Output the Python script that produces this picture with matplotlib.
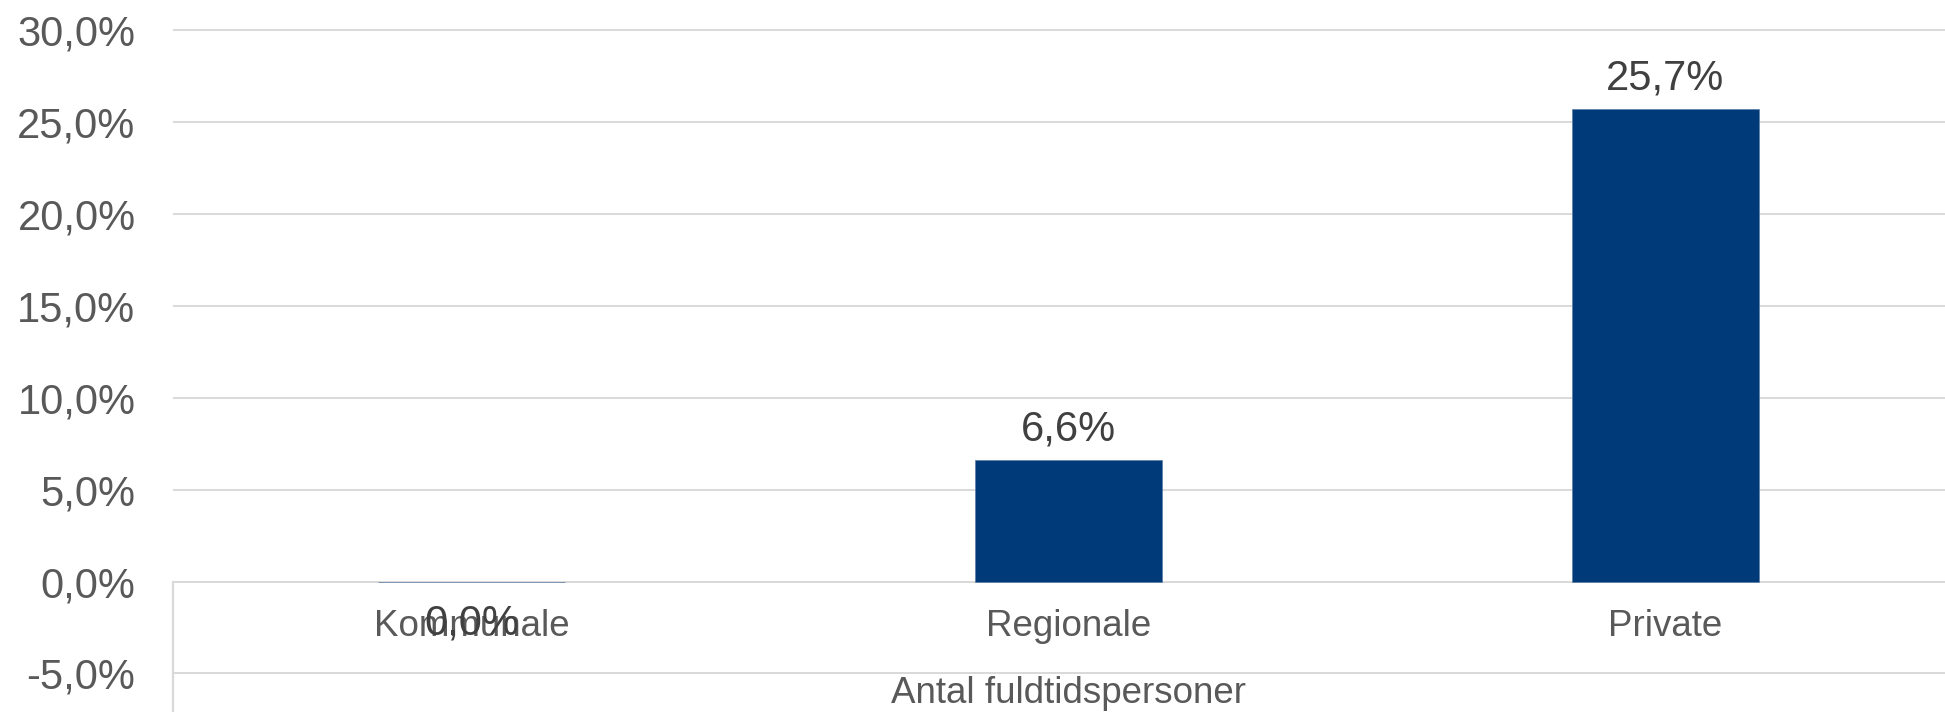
import matplotlib
matplotlib.use("Agg")
import matplotlib.pyplot as plt
from matplotlib.ticker import FixedLocator, FuncFormatter

# Share by sector, "Antal fuldtidspersoner"
categories = ["Kommunale", "Regionale", "Private"]
values = [0.0, 6.6, 25.7]          # percent
y_ticks = [-5, 0, 5, 10, 15, 20, 25, 30]
axis_title = "Antal fuldtidspersoner"

BAR = "#003A78"
BAR_EDGE = "#5C7DA6"
GRID = "#D9D9D9"
TICK_TXT = "#595959"
LABEL_TXT = "#404040"

plt.rcParams["font.family"] = ["Liberation Sans", "DejaVu Sans"]

DPI = 100
fig = plt.figure(figsize=(19.45, 7.12), dpi=DPI)
ax = fig.add_axes([173 / 1945, 0.0, (1964 - 173) / 1945, (712 - 29.1) / 712])

x = list(range(len(categories)))
ax.bar(x, values, width=0.3125, color=BAR, edgecolor=BAR_EDGE, linewidth=0.5, zorder=3)

ax.set_xlim(-0.5, len(categories) - 0.5)
ax.set_ylim(-7.099, 30.05)

def pct(v, _pos=None):
    return f"{v:.1f}".replace(".", ",") + "%"

ax.yaxis.set_major_locator(FixedLocator(y_ticks))
ax.yaxis.set_major_formatter(FuncFormatter(pct))
ax.grid(axis="y", color=GRID, linewidth=1.4, zorder=0)
ax.set_axisbelow(True)

ax.set_xticks(x)
ax.set_xticklabels(categories)
ax.tick_params(axis="x", length=0, pad=20, labelsize=26.5, labelcolor=TICK_TXT)
ax.tick_params(axis="y", length=0, pad=27, labelsize=30, labelcolor=TICK_TXT)

for side in ("top", "right"):
    ax.spines[side].set_visible(False)
ax.spines["bottom"].set_position(("data", 0))
ax.spines["bottom"].set_color(GRID)
ax.spines["bottom"].set_linewidth(1.4)
ax.spines["left"].set_color(GRID)
ax.spines["left"].set_linewidth(1.6)
ax.spines["left"].set_bounds(-7.099, 0)

# Value labels: above positive bars, below the axis for zero
for xi, v in zip(x, values):
    if v > 0:
        ax.annotate(pct(v), (xi, v), xytext=(0, 14.4), textcoords="offset points",
                    ha="center", va="baseline", fontsize=30, color=LABEL_TXT)
    else:
        ax.annotate(pct(v), (xi, v), xytext=(0, -38), textcoords="offset points",
                    ha="center", va="baseline", fontsize=30, color=LABEL_TXT)

ax.set_xlabel(axis_title, fontsize=26.5, color=TICK_TXT)
ax.xaxis.set_label_coords(0.5, (712 - 703) / (712 - 29.1))
ax.xaxis.label.set_verticalalignment("baseline")

fig.savefig("out.png", dpi=DPI, facecolor="white")
